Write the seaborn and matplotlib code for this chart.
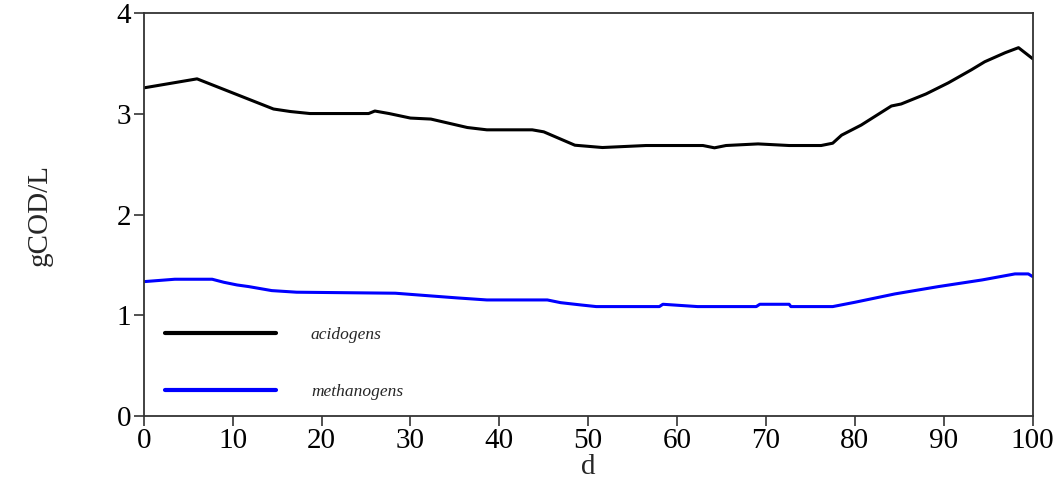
import matplotlib
matplotlib.use("Agg")
import matplotlib.pyplot as plt
import seaborn as sns
import pandas as pd

# Biomass concentration over time for two microbial groups
acid_days = [0, 6.0, 14.6, 16.5, 18.7, 25.3, 26.0, 27.6, 30.0, 32.3, 36.4, 38.6,
             43.7, 45.0, 48.5, 51.6, 56.5, 62.9, 64.2, 65.5, 69.1, 72.6, 76.2,
             77.5, 78.5, 80.7, 84.1, 85.2, 88.0, 90.5, 93.1, 94.6, 96.9, 98.4, 100]
acidogens = [3.26, 3.35, 3.05, 3.025, 3.005, 3.005, 3.03, 3.005, 2.96, 2.95, 2.866,
             2.843, 2.843, 2.823, 2.69, 2.667, 2.687, 2.687, 2.664, 2.687, 2.703,
             2.687, 2.687, 2.71, 2.79, 2.89, 3.08, 3.10, 3.20, 3.31, 3.44, 3.52,
             3.61, 3.66, 3.55]

meth_days = [0, 3.5, 7.7, 9.0, 10.5, 11.8, 14.4, 17.2, 28.3, 32.3, 35.3, 38.6,
             45.4, 46.9, 49.2, 50.9, 58.0, 58.4, 62.3, 68.9, 69.3, 72.6, 72.8,
             77.5, 80.0, 84.5, 89.4, 94.3, 98.0, 99.5, 100]
methanogens = [1.333, 1.357, 1.357, 1.327, 1.30, 1.284, 1.244, 1.228, 1.218, 1.191,
               1.171, 1.151, 1.151, 1.124, 1.101, 1.085, 1.085, 1.108, 1.085, 1.085,
               1.108, 1.108, 1.085, 1.085, 1.128, 1.211, 1.284, 1.35, 1.41, 1.41,
               1.383]

series_names = ["acidogens", "methanogens"]
series_colors = ["#000000", "#0000ff"]
x_ticks = [0, 10, 20, 30, 40, 50, 60, 70, 80, 90, 100]
y_ticks = [0, 1, 2, 3, 4]

df = pd.concat([
    pd.DataFrame({"d": acid_days, "gCOD/L": acidogens, "group": series_names[0]}),
    pd.DataFrame({"d": meth_days, "gCOD/L": methanogens, "group": series_names[1]}),
])

sns.set_style("ticks")
plt.rcParams["font.family"] = ["Liberation Serif", "DejaVu Serif"]

fig = plt.figure(figsize=(10.59, 4.82), dpi=100)
ax = fig.add_axes([0.1357, 0.1376, 0.8395, 0.8344])

sns.lineplot(data=df, x="d", y="gCOD/L", hue="group", hue_order=series_names,
             palette=series_colors, estimator=None, sort=False, linewidth=2.2,
             ax=ax)

ax.set_xlim(0, 100)
ax.set_ylim(0, 4)
ax.set_xticks(x_ticks)
ax.set_yticks(y_ticks)
ax.tick_params(direction="out", length=7, width=1.2, colors="#333333",
               labelcolor="black", labelsize=21, pad=2)
for side in ["left", "right", "top", "bottom"]:
    ax.spines[side].set_visible(True)
    ax.spines[side].set_color("#333333")
    ax.spines[side].set_linewidth(1.3)

ax.set_xlabel("d", fontsize=21, labelpad=0)
ax.set_ylabel("gCOD/L", fontsize=21, labelpad=46)

handles, labels = ax.get_legend_handles_labels()
for h in handles:
    h.set_linewidth(3)
leg = ax.legend(handles, labels, loc="upper left",
                bbox_to_anchor=(0.024, 0.22), frameon=False,
                handlelength=6.4, handletextpad=2.0, labelspacing=2.35,
                borderpad=0, borderaxespad=0,
                prop={"family": "Liberation Serif", "style": "italic", "size": 12.5})
for t in leg.get_texts():
    t.set_va("baseline")

fig.savefig("out.png", dpi=100)
